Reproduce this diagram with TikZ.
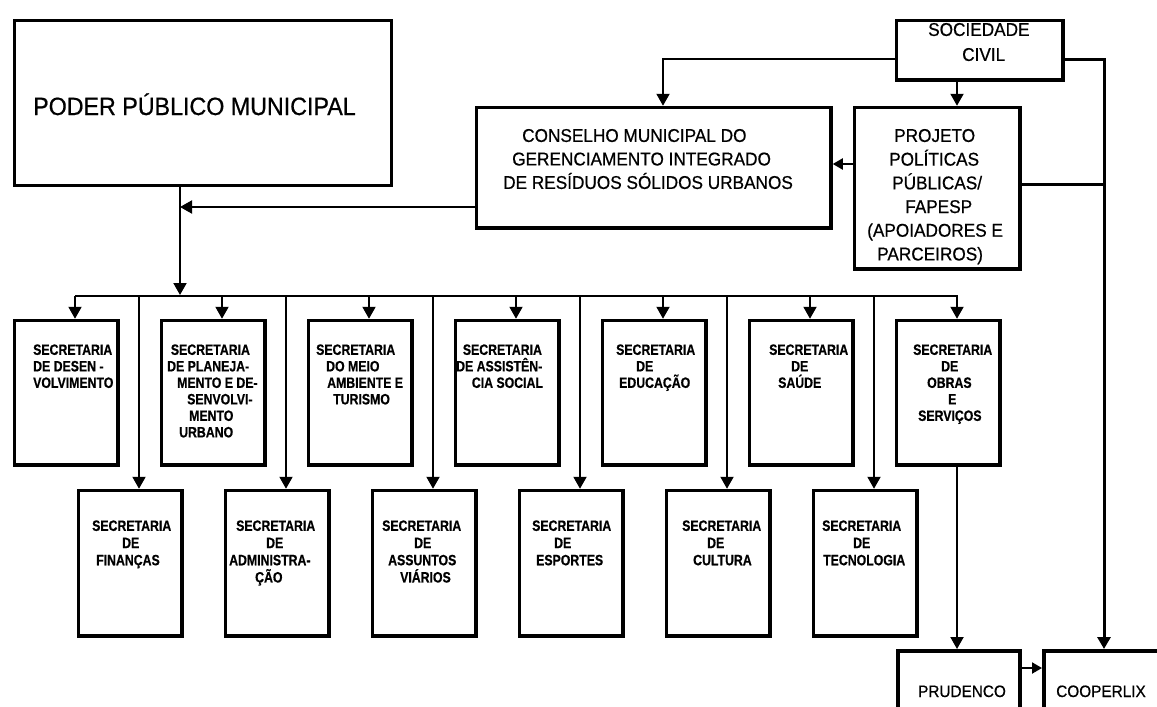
\documentclass[tikz,border=0pt]{standalone}
\usepackage{fontspec}
\setmainfont{Liberation Sans}
\newfontfamily\headfont{Liberation Sans}[FakeStretch=0.93, FakeBold=0.6]
\newfontfamily\secfont{Liberation Sans}[FakeStretch=0.82, FakeBold=0.5]
\usetikzlibrary{arrows.meta}
% line indent inside a text block
\newcommand\indt[1]{\hspace*{#1pt}}
\tikzset{
  box/.style={draw, line width=3.5pt, anchor=north west, inner sep=0pt, fill=white},
  secbox/.style={box, minimum width=103.5pt, minimum height=144.5pt},
  lowbox/.style={box, minimum width=103.5pt, minimum height=145.5pt},
  link/.style={line width=2pt},
  heavylink/.style={line width=3pt},
  arr/.style={-{Triangle[length=12pt,width=13pt]}},
  smallarr/.style={-{Triangle[length=10pt,width=11pt]}},
  sectext/.style={font=\secfont\bfseries\fontsize{15}{16.5}\selectfont, align=left, inner sep=0pt, anchor=north west},
  lowtext/.style={sectext, font=\secfont\bfseries\fontsize{15}{17.2}\selectfont},
  headtext/.style={font=\headfont\fontsize{18.5}{23.7}\selectfont, align=left, inner sep=0pt, anchor=north west},
}
\begin{document}
\begin{tikzpicture}[x=1pt, y=-1pt]
\useasboundingbox (0,0) rectangle (1157,707);
\fill[white] (0,0) rectangle (1157,707);
\clip (0,0) rectangle (1157,707);

% upper level
\node[box, line width=3pt, minimum width=377pt, minimum height=165pt] (poder) at (12.5,18.5) {};
\node[font=\headfont\fontsize{25}{30}\selectfont, anchor=base west, inner sep=0pt] (podert) at (33,115) {PODER PÚBLICO MUNICIPAL};

\node[box, minimum width=166.5pt, minimum height=59.5pt] (soc) at (894.75,18.75) {};
\node[headtext, font=\headfont\fontsize{18.5}{25}\selectfont] (soct) at (928,22.8) {SOCIEDADE\\\indt{34}CIVIL};

\node[box, minimum width=354.5pt, minimum height=120.5pt] (cons) at (474.75,105.75) {};
\node[headtext, font=\headfont\fontsize{18.5}{23.5}\selectfont] (const) at (503,128.8)
  {\indt{19}CONSELHO MUNICIPAL DO\\\indt{9}GERENCIAMENTO INTEGRADO\\DE RESÍDUOS SÓLIDOS URBANOS};

\node[box, minimum width=165.5pt, minimum height=161.5pt] (proj) at (852.75,105.75) {};
\node[headtext] (projt) at (867,128.8)
  {\indt{27}PROJETO\\\indt{22}POLÍTICAS\\\indt{25}PÚBLICAS/\\\indt{38}FAPESP\\(APOIADORES E\\\indt{10}PARCEIROS)};

% secretarias, upper row
\node[secbox] (s1) at (12.75,318.75) {};
\node[secbox] (s2) at (159.75,318.75) {};
\node[secbox] (s3) at (306.75,318.75) {};
\node[secbox] (s4) at (453.75,318.75) {};
\node[secbox] (s5) at (600.75,318.75) {};
\node[secbox] (s6) at (747.75,318.75) {};
\node[secbox] (s7) at (894.75,318.75) {};
\node[sectext] (s1t) at (33,344.2) {SECRETARIA\\DE DESEN -\\VOLVIMENTO};
\node[sectext] (s2t) at (167,344.2) {\indt{3.7}SECRETARIA\\DE PLANEJA-\\\indt{10}MENTO E DE-\\\indt{20}SENVOLVI-\\\indt{22}MENTO\\\indt{12}URBANO};
\node[sectext] (s3t) at (316,344.2) {SECRETARIA\\\indt{10}DO MEIO\\\indt{11}AMBIENTE E\\\indt{17}TURISMO};
\node[sectext] (s4t) at (456,344.2) {\indt{6.7}SECRETARIA\\DE ASSISTÊN-\\\indt{15.7}CIA SOCIAL};
\node[sectext] (s5t) at (616,344.2) {SECRETARIA\\\indt{20}DE\\\indt{3}EDUCAÇÃO};
\node[sectext] (s6t) at (769,344.2) {SECRETARIA\\\indt{22}DE\\\indt{9}SAÚDE};
\node[sectext] (s7t) at (913,344.2) {SECRETARIA\\\indt{28}DE\\\indt{14}OBRAS\\\indt{35}E\\\indt{5}SERVIÇOS};

% secretarias, lower row
\node[lowbox] (b1) at (76.75,488.75) {};
\node[lowbox] (b2) at (223.75,488.75) {};
\node[lowbox] (b3) at (370.75,488.75) {};
\node[lowbox] (b4) at (517.75,488.75) {};
\node[lowbox] (b5) at (664.75,488.75) {};
\node[lowbox] (b6) at (811.75,488.75) {};
\node[lowtext] (b1t) at (92,520.2) {SECRETARIA\\\indt{30}DE\\\indt{4}FINANÇAS};
\node[lowtext] (b2t) at (229,520.2) {\indt{7}SECRETARIA\\\indt{37}DE\\ADMINISTRA-\\\indt{26}ÇÃO};
\node[lowtext] (b3t) at (382,520.2) {SECRETARIA\\\indt{32}DE\\\indt{6}ASSUNTOS\\\indt{18}VIÁRIOS};
\node[lowtext] (b4t) at (532,520.2) {SECRETARIA\\\indt{22}DE\\\indt{4}ESPORTES};
\node[lowtext] (b5t) at (682,520.2) {SECRETARIA\\\indt{25}DE\\\indt{11}CULTURA};
\node[lowtext] (b6t) at (822,520.2) {SECRETARIA\\\indt{31}DE\\\indt{1}TECNOLOGIA};

% executing bodies
\node[box, line width=4pt, minimum width=122pt, minimum height=90pt] (prud) at (896,649) {};
\node[font=\headfont\fontsize{16.5}{20}\selectfont, anchor=base, inner sep=0pt] (prudt) at (962,697) {PRUDENCO};
\node[box, line width=4pt, minimum width=150pt, minimum height=90pt] (coop) at (1042,649) {};
\node[font=\headfont\fontsize{16.5}{20}\selectfont, anchor=base, inner sep=0pt] (coopt) at (1101,697) {COOPERLIX};

% connectors from the municipal power and the council
\coordinate (hub) at (180,295);
\coordinate (cjoin) at (180,207);
\draw[link,arr] (poder.south -| hub) -- (hub);
\draw[link,arr] (cons.west |- cjoin) -- (cjoin);

% distribution bus
\coordinate (busL) at (75,296);
\coordinate (busR) at (958,296);
\draw[link] (busL) -- (busR);
\foreach \i in {1,...,7} {
  \coordinate (t\i) at ({11+147*(\i-1)+64},296);
  \draw[link,arr] (t\i) -- (t\i |- s\i.north);
}
\foreach \i in {1,...,6} {
  \coordinate (d\i) at ({75+147*(\i-1)+64},296);
  \draw[link,arr] (d\i) -- (d\i |- b\i.north);
}

% civil society links
\coordinate (scL) at (663,59);
\coordinate (scR) at (1104,59);
\coordinate (sp) at (957,0);
\coordinate (pj) at (1104,184);
\coordinate (pc) at (0,164);
\draw[link,arr] (soc.west |- scL) -- (scL) -- (scL |- cons.north);
\draw[link,arr] (soc.south -| sp) -- (proj.north -| sp);
\draw[heavylink,arr] (soc.east |- scR) -- (scR) -- (scR |- coop.north);
\draw[heavylink] (proj.east |- pj) -- (pj);
\draw[link,smallarr] (proj.west |- pc) -- (cons.east |- pc);

% works department to the executing bodies
\coordinate (op) at (957,0);
\coordinate (pcy) at (0,668);
\draw[link,arr] (s7.south -| op) -- (prud.north -| op);
\draw[link,smallarr] (prud.east |- pcy) -- (coop.west |- pcy);
\end{tikzpicture}
\end{document}
